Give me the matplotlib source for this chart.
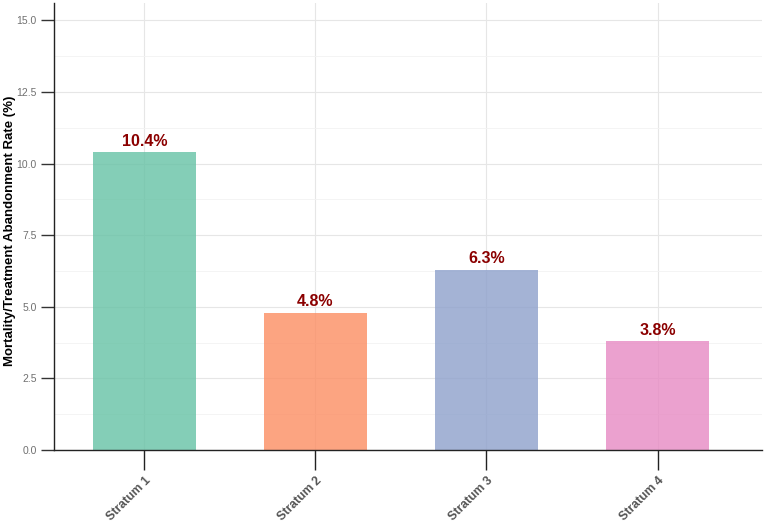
import matplotlib
matplotlib.use("Agg")
import matplotlib.pyplot as plt
from matplotlib.ticker import MultipleLocator

plt.rcParams["font.family"] = ["Liberation Sans", "DejaVu Sans"]

categories = ["Stratum 1", "Stratum 2", "Stratum 3", "Stratum 4"]
rates = [10.4, 4.8, 6.3, 3.8]
colors = ["#66c2a5", "#fc8d62", "#8da0cb", "#e78ac3"]

fig = plt.figure(figsize=(7.79, 5.24), dpi=100)
ax = fig.add_axes([0.069, 0.141, 0.909, 0.853])

x = list(range(len(categories)))
ax.bar(x, rates, width=0.6, color=colors, alpha=0.8, zorder=2)
for xi, v in zip(x, rates):
    ax.text(xi, v + 0.12, f"{v}%", ha="center", va="bottom",
            fontsize=11.5, fontweight="bold", color="#8b0000", zorder=3)

ax.set_xlim(-0.53, 3.61)
ax.set_ylim(0, 15.6)
ax.yaxis.set_major_locator(MultipleLocator(2.5))
ax.yaxis.set_minor_locator(MultipleLocator(1.25))
ax.set_xticks(x)
ax.set_xticklabels(categories, rotation=45, ha="right", rotation_mode="anchor",
                   fontsize=8.8, fontweight="bold", color="#555555")
ax.tick_params(axis="x", length=14.4, width=1, color="#222222", pad=3)
ax.tick_params(axis="y", which="major", length=9.4, width=1, color="#333333",
               labelsize=7.5, labelcolor="#707070", pad=3)
ax.tick_params(axis="y", which="minor", length=0)
ax.set_ylabel("Mortality/Treatment Abandonment Rate (%)", fontsize=9.5,
              fontweight="bold", color="black")
ax.yaxis.set_label_coords(-0.054, 0.49)

ax.grid(True, which="major", color="#e6e6e6", linewidth=0.8, zorder=0)
ax.grid(True, which="minor", axis="y", color="#f2f2f2", linewidth=0.6, zorder=0)
ax.set_axisbelow(True)
for s in ["top", "right"]:
    ax.spines[s].set_visible(False)
for s in ["left", "bottom"]:
    ax.spines[s].set_color("#222222")
    ax.spines[s].set_linewidth(1.0)

fig.savefig("out.png", dpi=100)
